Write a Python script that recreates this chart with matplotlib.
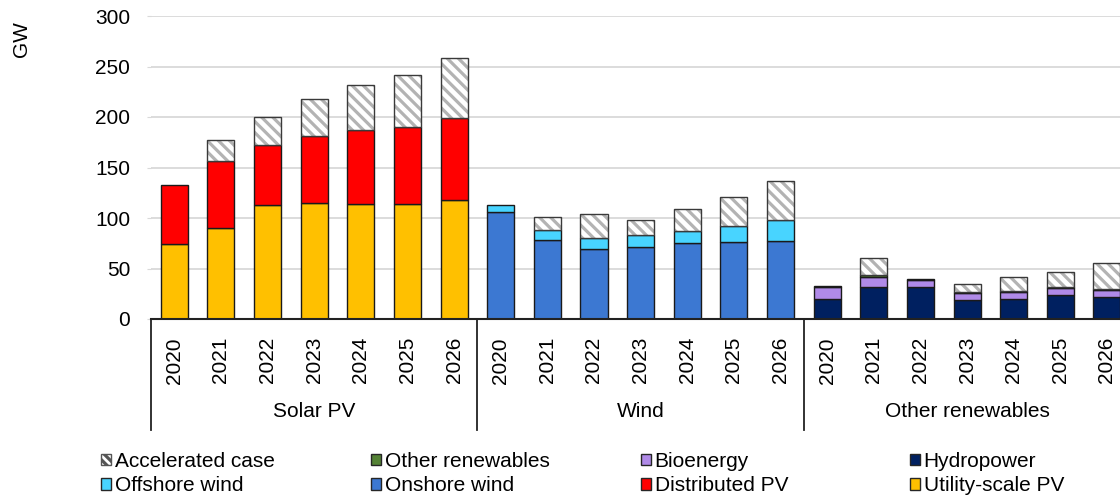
"""Renewable capacity additions by technology, main vs accelerated case."""
import numpy as np
import matplotlib
matplotlib.use("Agg")
import matplotlib.pyplot as plt
from matplotlib.patches import Patch
from matplotlib.transforms import blended_transform_factory

plt.rcParams['font.family'] = ['Liberation Sans', 'DejaVu Sans']
plt.rcParams['hatch.linewidth'] = 2.3

# --- Data (GW) ---
years  = ['2020', '2021', '2022', '2023', '2024', '2025', '2026']
groups = ['Solar PV', 'Wind', 'Other renewables']

utility_pv     = [74, 90, 113, 115, 114, 114, 118]
distributed_pv = [59, 66, 59, 66, 73, 76, 81]
solar_accel    = [0, 21, 28, 37, 45, 52, 59]

onshore_wind   = [106, 78, 69, 71, 75, 76, 77]
offshore_wind  = [7, 10, 11, 12, 12, 16, 21]
wind_accel     = [0, 13, 24, 15, 22, 29, 39]

hydropower     = [20, 32, 32, 19, 20, 24, 22]
bioenergy      = [12, 10, 7, 7, 7, 7, 7]
other_ren      = [0.5, 1.5, 0.5, 1, 0.5, 0.5, 1]
other_accel    = [0, 17, 0, 8, 14, 15, 25]

C_UTIL  = '#ffc000'
C_DIST  = '#ff0000'
C_ON    = '#3c78d2'
C_OFF   = '#48d4ff'
C_HYDRO = '#002060'
C_BIO   = '#b08ae8'
C_OTHER = '#548235'
HATCH   = '\\\\\\'
EDGE    = '#1a1a1a'
W = 0.58

fig = plt.figure(figsize=(11.2, 4.97), dpi=100)
ax = fig.add_axes([151 / 1120, 178 / 497, 1 - 151 / 1120, 303 / 497])


def draw_stack(x, layers, accel):
    bottom = np.zeros(len(x))
    for vals, color in layers:
        vals = np.asarray(vals, float)
        ax.bar(x, vals, W, bottom=bottom, color=color, edgecolor=EDGE, lw=1, zorder=2)
        bottom += vals
    accel = np.asarray(accel, float)
    m = accel > 0
    ax.bar(x[m], accel[m], W, bottom=bottom[m], color='white', edgecolor='#b3b3b3',
           hatch=HATCH, lw=0, zorder=2)
    ax.bar(x[m], accel[m], W, bottom=bottom[m], fill=False, edgecolor='#3a3a3a',
           lw=1, zorder=3)


n = len(years)
draw_stack(np.arange(n) + 0 * n, [(utility_pv, C_UTIL), (distributed_pv, C_DIST)], solar_accel)
draw_stack(np.arange(n) + 1 * n, [(onshore_wind, C_ON), (offshore_wind, C_OFF)], wind_accel)
draw_stack(np.arange(n) + 2 * n, [(hydropower, C_HYDRO), (bioenergy, C_BIO),
                                  (other_ren, C_OTHER)], other_accel)

# axes styling
ax.set_xlim(-0.5, 20.28)
ax.set_ylim(0, 300)
ax.set_yticks(range(0, 301, 50))
ax.yaxis.grid(True, color='#d9d9d9', lw=1.3)
ax.set_axisbelow(True)
for s in ['left', 'right', 'top']:
    ax.spines[s].set_visible(False)
ax.spines['bottom'].set_color('#222222')
ax.spines['bottom'].set_linewidth(1.5)
ax.tick_params(axis='y', length=3, color='#d9d9d9', pad=12, labelsize=15)

ax.set_xticks(np.arange(3 * n))
ax.set_xticklabels(years * 3, rotation=90, fontsize=15)
ax.tick_params(axis='x', length=0, pad=13)

# group separators and labels
trans = blended_transform_factory(ax.transData, ax.transAxes)
for xv in [-0.5, 6.5, 13.5, 20.5]:
    ax.plot([xv, xv], [0, -0.366], transform=trans, color='#222222', lw=1.3, clip_on=False)
for i, g in enumerate(groups):
    ax.text(i * n + 3, -0.304, g, transform=trans, ha='center', va='center', fontsize=15)

fig.text(22 / 1120, 1 - 39 / 497, 'GW', rotation=90, ha='center', va='center', fontsize=15)

# legend: four columns, two rows
cols = [
    [('Accelerated case', 'white', True), ('Offshore wind', C_OFF, False)],
    [('Other renewables', C_OTHER, False), ('Onshore wind', C_ON, False)],
    [('Bioenergy', C_BIO, False), ('Distributed PV', C_DIST, False)],
    [('Hydropower', C_HYDRO, False), ('Utility-scale PV', C_UTIL, False)],
]
col_x = [101, 371, 641, 910]
for cx, items in zip(col_x, cols):
    handles = []
    for label, color, hatched in items:
        if hatched:
            handles.append(Patch(facecolor='white', edgecolor='#555555', hatch='\\\\\\\\',
                                 lw=1, label=label))
        else:
            handles.append(Patch(facecolor=color, edgecolor='#262626', lw=1, label=label))
    fig.legend(handles=handles, loc='center left', bbox_to_anchor=(cx / 1120, 1 - 473.5 / 497),
               frameon=False, fontsize=15, handlelength=0.5, handleheight=0.5,
               handletextpad=0.15, labelspacing=0.25, borderpad=0, borderaxespad=0)

fig.savefig("out.png", dpi=100)
